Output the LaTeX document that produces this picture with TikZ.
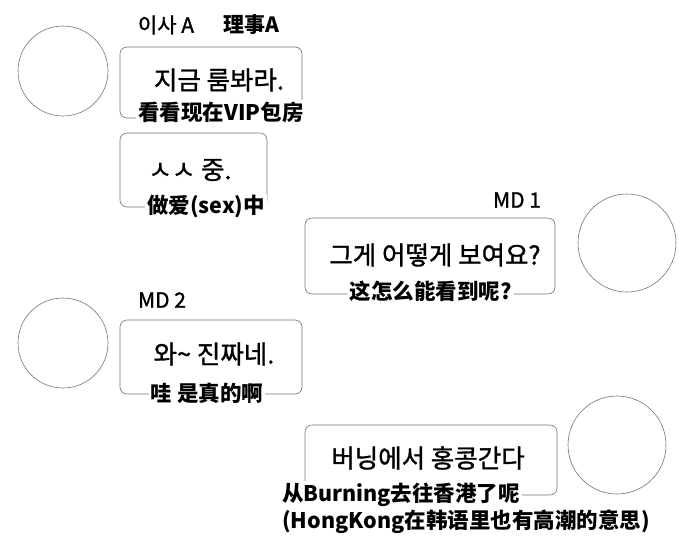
\documentclass[tikz,border=0pt]{standalone}
\usepackage{fontspec}
\setmainfont{Noto Sans CJK SC}
\newfontfamily\krfont[FakeBold=1.2]{Noto Sans CJK KR}
\newfontfamily\zhfont{Noto Sans CJK SC}
\tikzset{
	avatar/.style={draw=black!55, line width=0.6pt},
	bubble/.style={draw=black!55, line width=0.6pt, rounded corners=7pt},
	speaker/.style={font=\krfont\fontsize{21}{21}\selectfont, inner sep=0pt},
	korean/.style={font=\krfont\fontsize{25.5}{25.5}\selectfont, inner sep=0pt},
	chinese/.style={font=\zhfont\bfseries\fontsize{21.5}{21.5}\selectfont, fill=white, inner sep=2pt},
}

\begin{document}
\begin{tikzpicture}[x=1pt, y=-1pt]
			%%%%% START %%%%%
			\useasboundingbox (0, 0) rectangle (690, 541);
			
			% avatars
			\draw[avatar] (63, 71) circle (45);
			\draw[avatar] (627, 243) circle (49);
			\draw[avatar] (63, 343) circle (45);
			\draw[avatar] (617, 445) circle (49);
			
			% bubbles
			\draw[bubble] (120, 47) rectangle (302, 118);
			\draw[bubble] (120, 133) rectangle (267, 207);
			\draw[bubble] (305, 218) rectangle (555, 294);
			\draw[bubble] (120, 320) rectangle (302, 394);
			\draw[bubble] (305, 425) rectangle (557, 495);
			
			% speakers
			\node[speaker] (directorKr) at (166, 25) {이사 A};
			\node[speaker] (directorZh) at (251, 25) {\zhfont\bfseries 理事A};
			\node[speaker] (mdOne) at (517, 200) {MD 1};
			\node[speaker] (mdTwo) at (162, 300) {MD 2};
			
			% lines
			\node[korean] (roomKr) at (219, 80) {지금 룸봐라.};
			\node[chinese] (roomZh) at (221, 112) {看看现在VIP包房};
			
			\node[korean] (sexKr) at (190, 170) {ㅅㅅ 중.};
			\node[chinese] (sexZh) at (206, 207) {做爱(sex)中};
			
			\node[korean] (seeKr) at (435, 255) {그게 어떻게 보여요?};
			\node[chinese] (seeZh) at (431, 291) {这怎么能看到呢?};
			
			\node[korean] (realKr) at (214, 354) {와\textasciitilde{} 진짜네.};
			\node[chinese] (realZh) at (207, 393) {哇 是真的啊};
			
			\node[korean] (hkKr) at (428, 458) {버닝에서 홍콩간다};
			\node[chinese] (hkZh) at (401, 495) {从Burning去往香港了呢};
			\node[chinese] (hkNote) at (466, 522) {(HongKong在韩语里也有高潮的意思)};
			
			%%%%% END %%%%%
		\end{tikzpicture}
\end{document}
